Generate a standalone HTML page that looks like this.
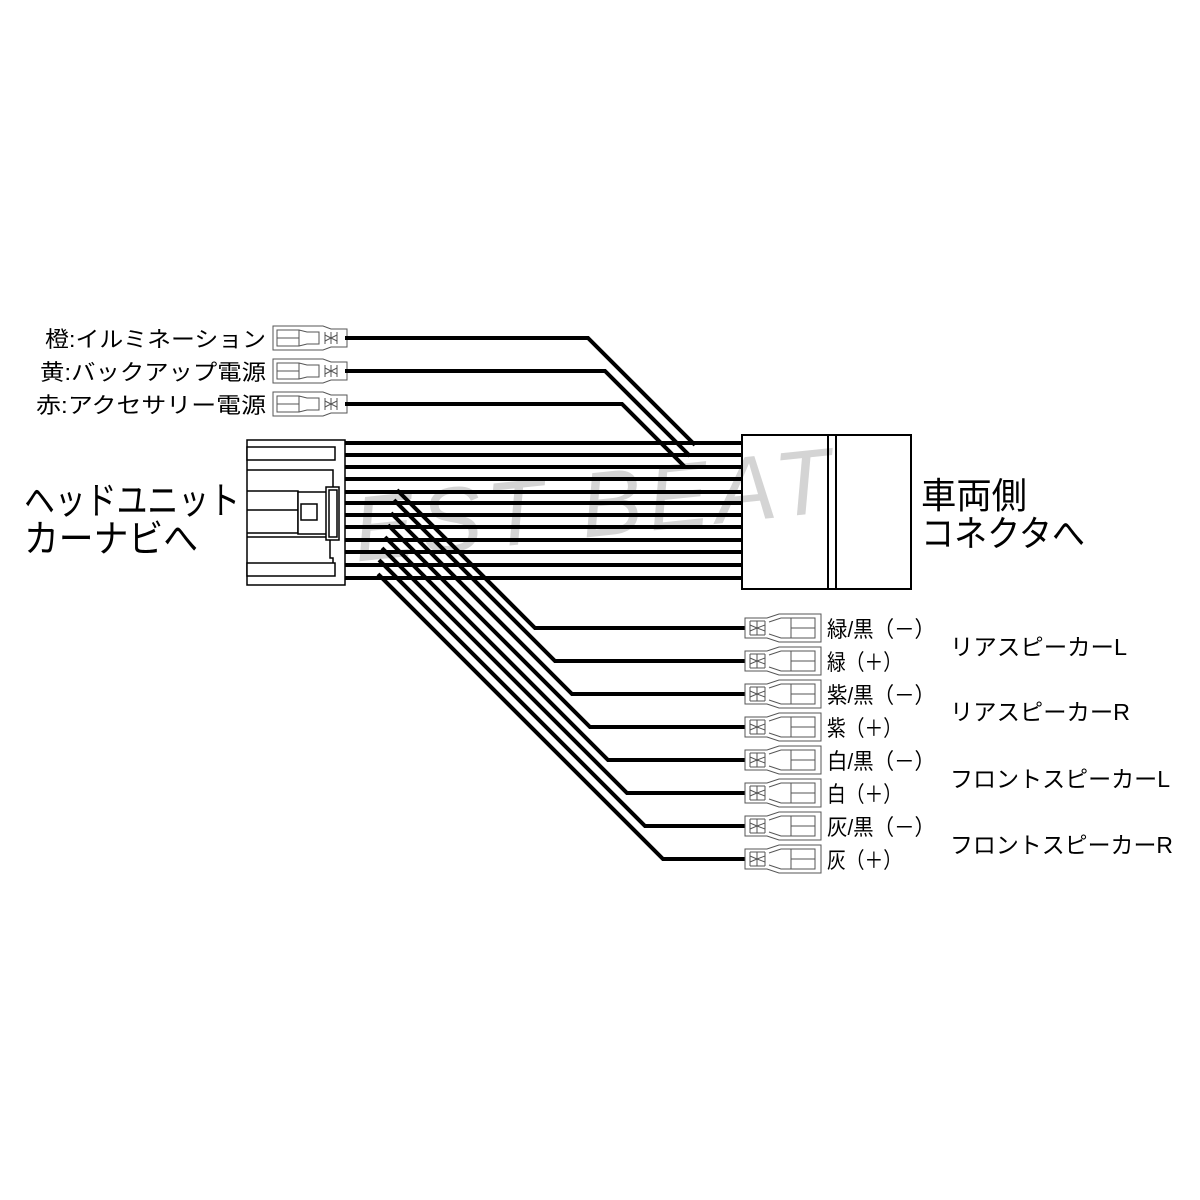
<!DOCTYPE html>
<html><head><meta charset="utf-8">
<style>
html,body{margin:0;padding:0;background:#fff;}
svg{display:block;}
text{font-family:"Liberation Sans","Noto Sans CJK JP",sans-serif;fill:#000;}
</style></head>
<body>
<svg width="1200" height="1200" viewBox="0 0 1200 1200" xmlns="http://www.w3.org/2000/svg">
<defs>
  <g id="tl">
    <path d="M0,-12 H50 L58,-9 H74 V9 H58 L50,12 H0 Z" fill="#fff" stroke="#555" stroke-width="1"/>
    <path d="M4,-8 H26 L34,-6 H46 V6 H34 L26,8 H4 Z M4,0 H26 M26,-8 V8" fill="none" stroke="#555" stroke-width="1"/>
    <path d="M52,-6 V6 M58,-6 V6 M64,-6 V6 M52,-3 L58,0 L52,3 M64,-3 L58,0 L64,3" fill="none" stroke="#555" stroke-width="1"/>
  </g>
  <g id="tr">
    <path d="M0,-10 H22 L34,-14 H76 V14 H34 L22,10 H0 Z" fill="#fff" stroke="#555" stroke-width="1"/>
    <path d="M5,-7 V7 M12,-7 V7 M20,-7 V7 M5,-7 H20 M5,7 H20 M5,-3 L12,0 L5,3 M20,-3 L12,0 L20,3" fill="none" stroke="#555" stroke-width="1"/>
    <path d="M24,-6 L36,-10 H70 V10 H36 L24,6 M46,-10 V10 M46,0 H70" fill="none" stroke="#555" stroke-width="1"/>
  </g>
</defs>

<text x="285" y="540" font-family="Liberation Serif,serif" font-style="italic" font-size="92" style="fill:#d4d4d4" transform="rotate(-6 560 510)" letter-spacing="6">BEST BEAT</text>

<text x="45" y="347" font-size="22" textLength="221" lengthAdjust="spacingAndGlyphs">橙:イルミネーション</text>
<text x="40" y="380" font-size="22" textLength="226" lengthAdjust="spacingAndGlyphs">黄:バックアップ電源</text>
<text x="36" y="413" font-size="22" textLength="230" lengthAdjust="spacingAndGlyphs">赤:アクセサリー電源</text>

<use href="#tl" x="273" y="338"/>
<use href="#tl" x="273" y="371"/>
<use href="#tl" x="273" y="404"/>

<g fill="none" stroke="#000" stroke-width="4" stroke-linejoin="miter">
  <polyline points="345,338 588,338 695,445"/>
  <polyline points="345,371 605,371 690,456"/>
  <polyline points="345,404 622,404 685,467"/>
  <line x1="345" y1="443" x2="742" y2="443"/>
  <line x1="345" y1="455" x2="742" y2="455"/>
  <line x1="345" y1="467" x2="742" y2="467"/>
  <line x1="345" y1="479" x2="742" y2="479"/>
  <line x1="345" y1="492" x2="742" y2="492"/>
  <line x1="345" y1="503" x2="742" y2="503"/>
  <line x1="345" y1="515" x2="742" y2="515"/>
  <line x1="345" y1="527" x2="742" y2="527"/>
  <line x1="345" y1="540" x2="742" y2="540"/>
  <line x1="345" y1="552" x2="742" y2="552"/>
  <line x1="345" y1="565" x2="742" y2="565"/>
  <line x1="345" y1="578" x2="742" y2="578"/>
  <polyline points="397,490 535,628 752,628"/>
  <polyline points="394,500 555,661 752,661"/>
  <polyline points="391,513 572,694 752,694"/>
  <polyline points="388,525 590,727 752,727"/>
  <polyline points="385,537 608,760 752,760"/>
  <polyline points="382,548 627,793 752,793"/>
  <polyline points="379,560 645,826 752,826"/>
  <polyline points="378,574 663,859 752,859"/>
</g>

<g fill="#fff" stroke="#000" stroke-width="1.5">
  <rect x="247" y="440" width="98" height="145"/>
  <rect x="247" y="447" width="88" height="13"/>
  <path d="M247,470 H333 V488 H330 V510 H247" fill="none"/>
  <path d="M247,537 H330 V558 H333 V575 H247" fill="none"/>
  <rect x="247" y="563" width="88" height="13"/>
  <path d="M247,491 H298 V533 H247" fill="none"/>
  <rect x="298" y="492" width="36" height="42"/>
  <rect x="301" y="504" width="16" height="16"/>
  <rect x="326" y="487" width="13" height="53"/>
  <rect x="329" y="490" width="8" height="47"/>
</g>

<g fill="none" stroke="#000" stroke-width="2">
  <rect x="742" y="435" width="169" height="154" fill="none"/>
  <line x1="828" y1="435" x2="828" y2="589"/>
  <line x1="836" y1="435" x2="836" y2="589"/>
</g>

<text x="24" y="514" font-size="38" textLength="216" lengthAdjust="spacingAndGlyphs">ヘッドユニット</text>
<text x="24" y="552" font-size="38" textLength="174" lengthAdjust="spacingAndGlyphs">カーナビへ</text>
<text x="921" y="508" font-size="36" textLength="106" lengthAdjust="spacingAndGlyphs">車両側</text>
<text x="921" y="546" font-size="36" textLength="164" lengthAdjust="spacingAndGlyphs">コネクタへ</text>

<use href="#tr" x="745" y="628"/>
<use href="#tr" x="745" y="661"/>
<use href="#tr" x="745" y="694"/>
<use href="#tr" x="745" y="727"/>
<use href="#tr" x="745" y="760"/>
<use href="#tr" x="745" y="793"/>
<use href="#tr" x="745" y="826"/>
<use href="#tr" x="745" y="859"/>

<g font-size="22">
<text x="827" y="637" textLength="108" lengthAdjust="spacingAndGlyphs">緑/黒（－）</text>
<text x="827" y="670" textLength="75" lengthAdjust="spacingAndGlyphs">緑（＋）</text>
<text x="827" y="703" textLength="108" lengthAdjust="spacingAndGlyphs">紫/黒（－）</text>
<text x="827" y="736" textLength="75" lengthAdjust="spacingAndGlyphs">紫（＋）</text>
<text x="827" y="769" textLength="108" lengthAdjust="spacingAndGlyphs">白/黒（－）</text>
<text x="827" y="802" textLength="75" lengthAdjust="spacingAndGlyphs">白（＋）</text>
<text x="827" y="835" textLength="108" lengthAdjust="spacingAndGlyphs">灰/黒（－）</text>
<text x="827" y="868" textLength="75" lengthAdjust="spacingAndGlyphs">灰（＋）</text>
</g>
<g font-size="23">
<text x="950" y="655" textLength="177" lengthAdjust="spacingAndGlyphs">リアスピーカーL</text>
<text x="950" y="720" textLength="180" lengthAdjust="spacingAndGlyphs">リアスピーカーR</text>
<text x="950" y="787" textLength="220" lengthAdjust="spacingAndGlyphs">フロントスピーカーL</text>
<text x="950" y="853" textLength="223" lengthAdjust="spacingAndGlyphs">フロントスピーカーR</text>
</g>
</svg>
</body></html>
